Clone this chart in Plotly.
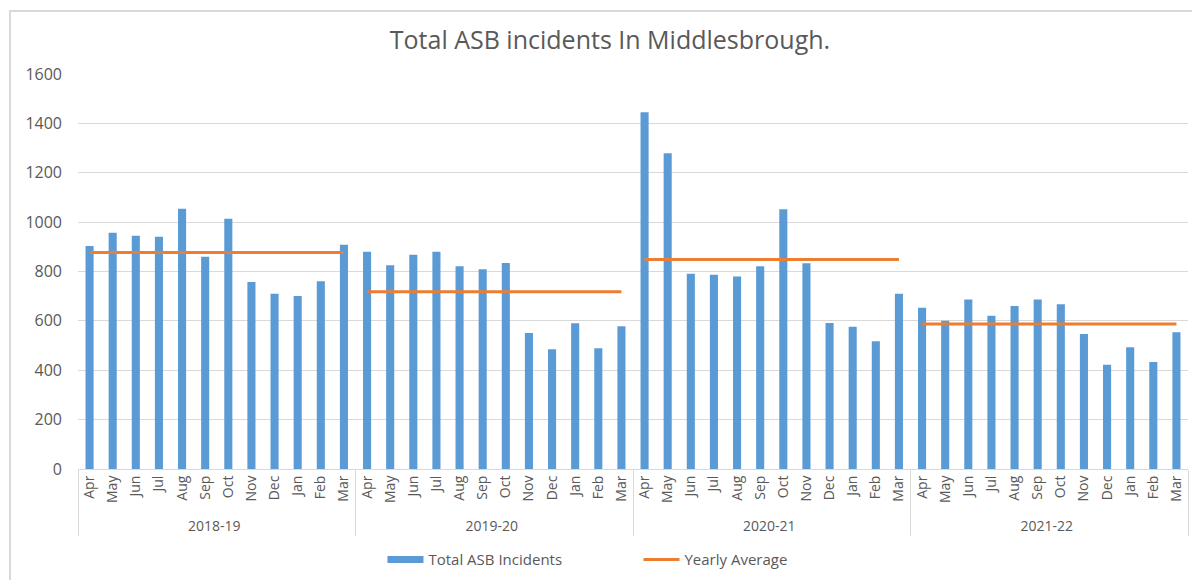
import plotly.graph_objects as go

years = ["2018-19", "2019-20", "2020-21", "2021-22"]
months = ["Apr", "May", "Jun", "Jul", "Aug", "Sep", "Oct", "Nov", "Dec", "Jan", "Feb", "Mar"]

incidents = {
    "2018-19": [903, 957, 945, 941, 1054, 860, 1014, 757, 710, 701, 761, 908],
    "2019-20": [880, 825, 868, 880, 821, 809, 834, 551, 485, 590, 489, 578],
    "2020-21": [1445, 1279, 791, 787, 780, 821, 1052, 833, 591, 576, 517, 710],
    "2021-22": [653, 601, 687, 621, 660, 687, 667, 547, 422, 493, 433, 554],
}
yearly_average = {"2018-19": 877, "2019-20": 718, "2020-21": 849, "2021-22": 587}

BLUE = "#5B9BD5"
ORANGE = "#ED7D31"
TEXT = "#595959"
GRID = "#D9D9D9"
FONT = "Open Sans"

x_year = [y for y in years for _ in months]
x_month = [m for _ in years for m in months]
y_vals = [v for y in years for v in incidents[y]]

fig = go.Figure()
fig.add_trace(go.Bar(
    x=[x_year, x_month], y=y_vals, name="Total ASB Incidents", showlegend=False,
    marker=dict(color=BLUE, line=dict(width=0)),
))
# legend proxy for the bars (wide blue swatch)
fig.add_trace(go.Scatter(
    x=[[years[0]], [months[0]]], y=[None], mode="lines", name="Total ASB Incidents",
    line=dict(color=BLUE, width=7), showlegend=True, hoverinfo="skip",
))
for i, yr in enumerate(years):
    fig.add_trace(go.Scatter(
        x=[[yr] * 12, months], y=[yearly_average[yr]] * 12,
        mode="lines", name="Yearly Average", legendgroup="avg",
        showlegend=(i == 0), line=dict(color=ORANGE, width=3),
    ))

fig.update_layout(
    width=1192, height=572,
    margin=dict(l=70, r=12, t=66, b=111, autoexpand=False),
    paper_bgcolor="white", plot_bgcolor="white",
    bargap=0.65,
    font=dict(family=FONT, color=TEXT, size=14),
    title=dict(text="Total ASB incidents In Middlesbrough.", x=0.505, xanchor="center",
               y=0.944, yanchor="middle", font=dict(size=25, color=TEXT, family=FONT)),
    legend=dict(orientation="h", x=0.2743, xanchor="left", y=-0.23, yanchor="middle",
                font=dict(size=15, color=TEXT, family=FONT), traceorder="normal",
                itemwidth=36, entrywidth=205, entrywidthmode="pixels"),
    showlegend=True,
)
fig.update_yaxes(range=[0, 1600], dtick=200, showgrid=True, gridcolor=GRID, gridwidth=1,
                 zeroline=False, showline=False, ticks="", automargin=False,
                 ticklabelstandoff=15, tickfont=dict(size=16, color=TEXT))
fig.update_xaxes(type="multicategory", showline=True, linecolor=GRID, linewidth=1,
                 showgrid=False, tickangle=-90, ticks="", automargin=False,
                 tickfont=dict(size=14, color=TEXT),
                 showdividers=True, dividercolor=GRID, dividerwidth=1)

fig.add_shape(type="rect", xref="paper", yref="paper", x0=-0.0613, x1=1.05, y0=-0.35, y1=1.1595,
              line=dict(color=GRID, width=2), fillcolor="rgba(0,0,0,0)", layer="below")

fig.write_html("out.html")
